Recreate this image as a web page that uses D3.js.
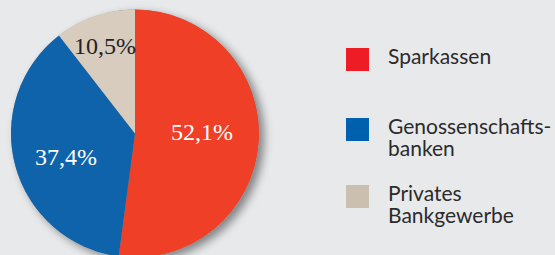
<!DOCTYPE html>
<html><head><meta charset="utf-8">
<script src="https://cdn.jsdelivr.net/npm/d3@7"></script>
<style>
html,body{margin:0;padding:0;background:#e8e9eb;}
svg{display:block;}
</style></head>
<body>
<svg id="c" width="555" height="255"></svg>
<script>
const categories = ["Sparkassen", "Genossenschaftsbanken", "Privates Bankgewerbe"];
const values = [52.1, 37.4, 10.5];
const valueLabels = ["52,1%", "37,4%", "10,5%"];
const legendLines = [["Sparkassen"], ["Genossenschafts-", "banken"], ["Privates", "Bankgewerbe"]];
const sliceColors = ["#ef3f26", "#0f63ab", "#d8ccbe"];
const legendColors = ["#ee1c25", "#0060ae", "#cbbfb0"];
const labelColors = ["#ffffff", "#ffffff", "#222222"];

const svg = d3.select("#c");
const cx = 135, cy = 133.5, r = 124;

const defs = svg.append("defs");
const f = defs.append("filter").attr("id","sh").attr("x","-20%").attr("y","-20%").attr("width","150%").attr("height","150%");
f.append("feGaussianBlur").attr("in","SourceAlpha").attr("stdDeviation",5);
f.append("feOffset").attr("dx",5).attr("dy",4).attr("result","b");
f.append("feComponentTransfer").append("feFuncA").attr("type","linear").attr("slope",0.45);
const fm = f.append("feMerge");
fm.append("feMergeNode");
fm.append("feMergeNode").attr("in","SourceGraphic");

const pie = d3.pie().sort(null).value(d => d)(values);
const arc = d3.arc().innerRadius(0).outerRadius(r);
const g = svg.append("g").attr("transform", `translate(${cx},${cy})`);
g.append("circle").attr("r", r).attr("fill", "#888").attr("filter","url(#sh)");
g.selectAll("path.s").data(pie).join("path").attr("class","s")
  .attr("d", arc).attr("fill", (d,i) => sliceColors[i]);

const labelPos = [[67, 6], [-69, 31], [-30, -80]];
g.selectAll("text.v").data(pie).join("text").attr("class","v")
  .attr("x", (d,i) => labelPos[i][0]).attr("y", (d,i) => labelPos[i][1])
  .attr("text-anchor","middle")
  .attr("font-family","'Liberation Serif','DejaVu Serif',serif")
  .attr("font-size", 24)
  .attr("fill", (d,i) => labelColors[i])
  .text((d,i) => valueLabels[i]);

const legendY = [48, 118, 185];
const lg = svg.append("g");
categories.forEach((c,i) => {
  lg.append("rect").attr("x",346).attr("y",legendY[i]).attr("width",23).attr("height",23).attr("fill",legendColors[i]);
  const t = lg.append("text").attr("x",388).attr("y",legendY[i]+16)
    .attr("font-family","Lato, 'Noto Sans', sans-serif").attr("font-size",21).attr("fill","#2b2b2b");
  legendLines[i].forEach((ln,j) => t.append("tspan").attr("x",388).attr("dy", j===0?0:22).text(ln));
});
</script>
</body></html>
